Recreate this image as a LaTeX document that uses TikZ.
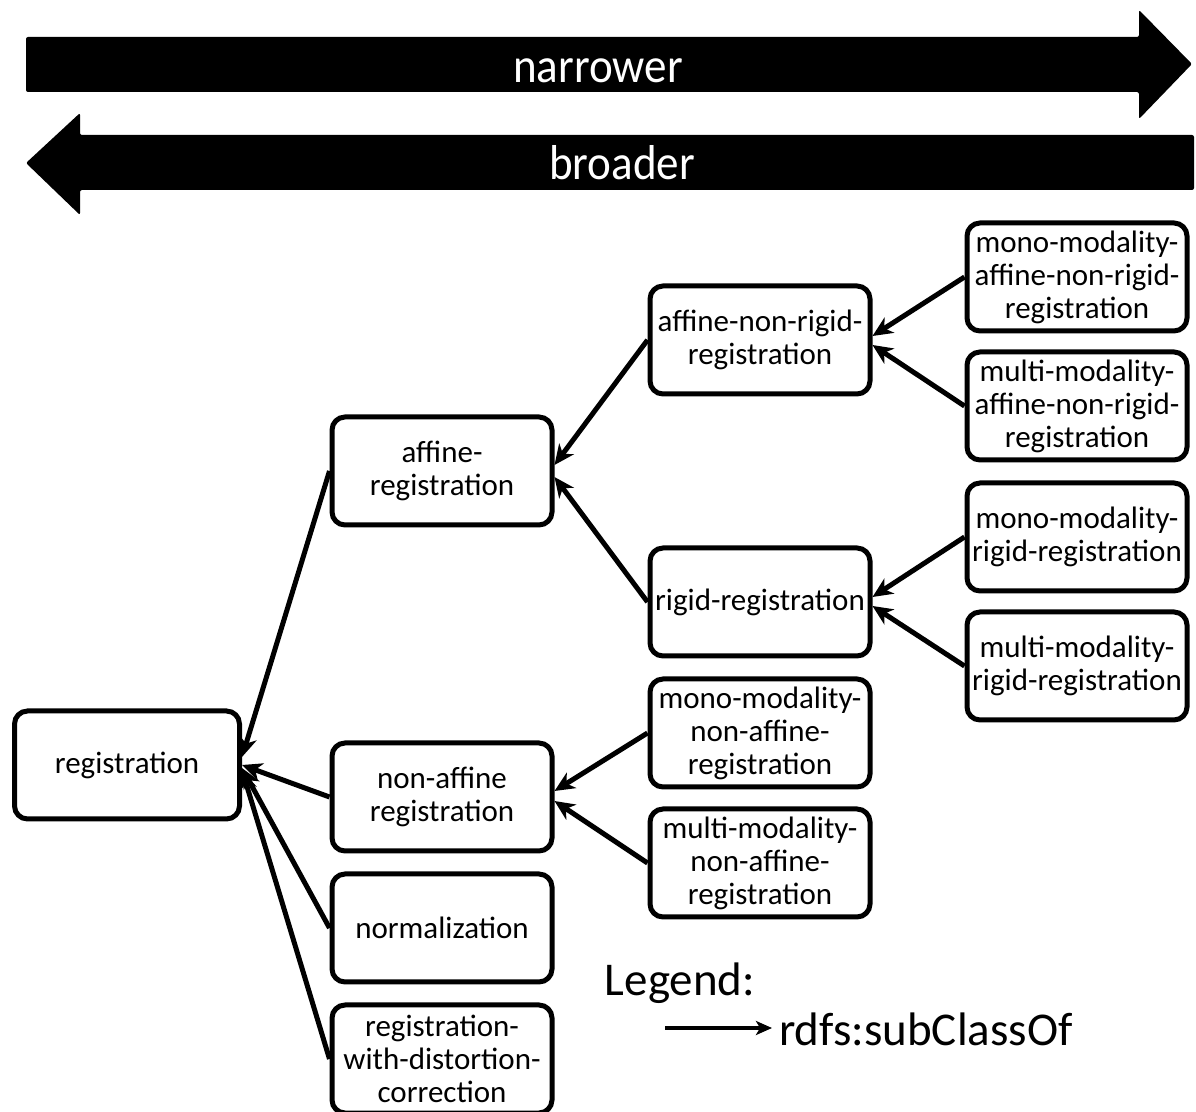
\documentclass[tikz,border=0pt]{standalone}
\usepackage{fontspec}
\setmainfont{Carlito}
\newfontfamily\bandfont[FakeStretch=0.92]{Carlito}
\usetikzlibrary{arrows.meta}

\begin{document}
\begin{tikzpicture}[x=0.5pt,y=-0.5pt,
  cls/.style={draw=black,line width=2.5pt,rounded corners=6.5pt,minimum width=110pt,
    minimum height=54pt,align=center,inner sep=2pt,font=\fontsize{15.5}{16.5}\selectfont},
  sub/.style={line width=2.5pt,-{Stealth[length=10pt,width=9pt,inset=3pt]}},
  legsub/.style={line width=2pt,-{Stealth[length=8pt,width=7pt,inset=2pt]}},
  band/.style={fill=black,rounded corners=1pt},
  bandtxt/.style={text=white,anchor=base,font=\bandfont\fontsize{24.5}{27}\selectfont},
  legtxt/.style={font=\fontsize{23.5}{26}\selectfont}]
\useasboundingbox (0,0) rectangle (1196,1112);
% direction bands
\fill[band] (26,37) -- (1139,37) -- (1139,10) -- (1192,64) -- (1139,119) -- (1139,92) -- (26,92) -- cycle;
\node[bandtxt] (narrow) at (598,83) {narrower};
\fill[band] (1194,135) -- (80,135) -- (80,113) -- (26,163) -- (80,215) -- (80,190) -- (1194,190) -- cycle;
\node[bandtxt] (broad) at (622,180) {broader};
% classes
\node[cls,minimum width=112.5pt] (reg) at (127,765) {registration};
\node[cls] (aff) at (442,471) {affine-\\registration};
\node[cls] (nonaff) at (442,797) {non-affine\\registration};
\node[cls] (norm) at (442,928) {normalization};
\node[cls] (rwdc) at (442,1059) {registration-\\with-distortion-\\correction};
\node[cls] (anr) at (760,340) {affine-non-rigid-\\registration};
\node[cls] (rigid) at (760,602) {rigid-registration};
\node[cls] (monona) at (760,733) {mono-modality-\\non-affine-\\registration};
\node[cls] (multina) at (760,863) {multi-modality-\\non-affine-\\registration};
\node[cls] (monoanr) at (1077,277) {mono-modality-\\affine-non-rigid-\\registration};
\node[cls] (multianr) at (1077,406) {multi-modality-\\affine-non-rigid-\\registration};
\node[cls] (monorig) at (1077,537) {mono-modality-\\rigid-registration};
\node[cls] (multirig) at (1077,666) {multi-modality-\\rigid-registration};
% subclass links
\draw[sub] (aff.west) -- ([yshift=4pt]reg.east);
\draw[sub] (nonaff.west) -- (reg.east);
\draw[sub] (norm.west) -- ([yshift=-1.5pt]reg.east);
\draw[sub] (rwdc.west) -- ([yshift=-2.5pt]reg.east);
\draw[sub] (anr.west) -- ([yshift=3pt]aff.east);
\draw[sub] (rigid.west) -- ([yshift=-3pt]aff.east);
\draw[sub] (monona.west) -- ([yshift=3pt]nonaff.east);
\draw[sub] (multina.west) -- ([yshift=-2pt]nonaff.east);
\draw[sub] (monoanr.west) -- ([yshift=2pt]anr.east);
\draw[sub] (multianr.west) -- ([yshift=-2.5pt]anr.east);
\draw[sub] (monorig.west) -- ([yshift=2.5pt]rigid.east);
\draw[sub] (multirig.west) -- ([yshift=-2pt]rigid.east);
% legend
\node[legtxt] (leg) at (680,983) {Legend:};
\node[legtxt,anchor=base west] (rdfs) at (772,1045) {rdfs:subClassOf};
\coordinate (legs) at (665,1028);
\draw[legsub] (legs) -- (legs -| rdfs.west);
\end{tikzpicture}
\end{document}
